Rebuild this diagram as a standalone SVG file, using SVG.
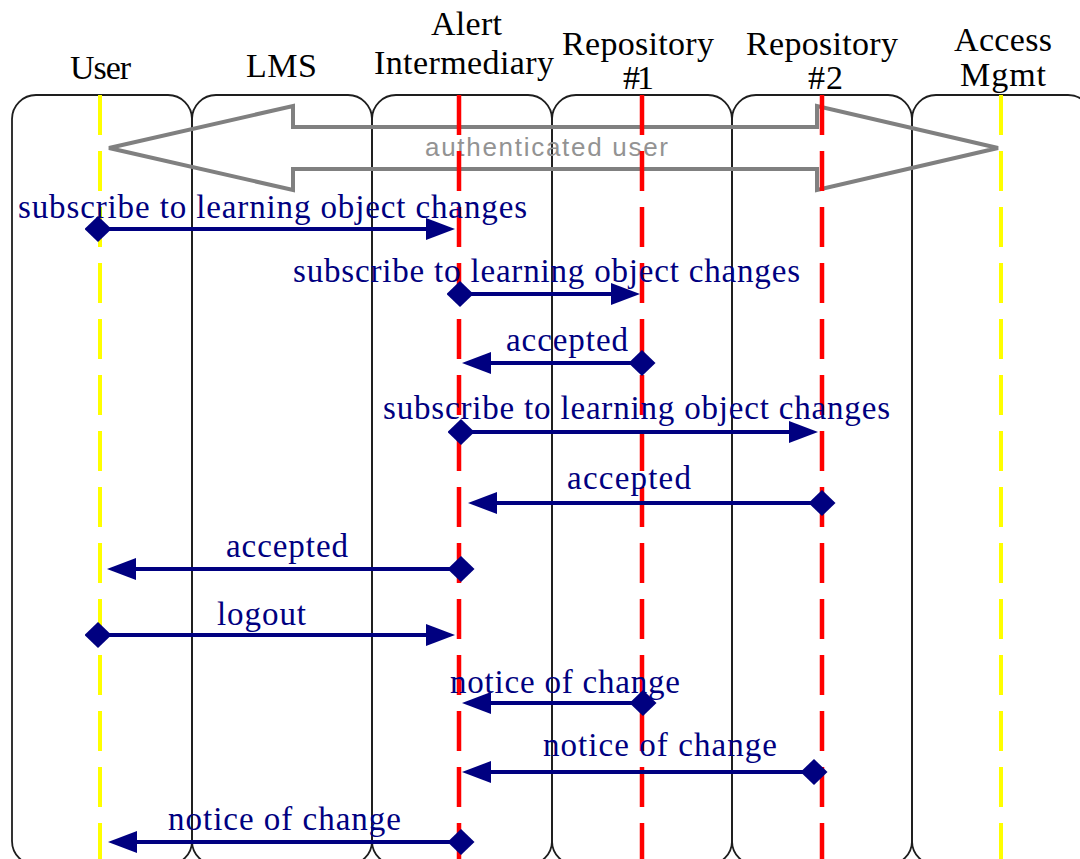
<svg xmlns="http://www.w3.org/2000/svg" width="1080" height="859" viewBox="0 0 1080 859">
  <style>
    .lane { fill: none; stroke: #1e1e1e; stroke-width: 1.8; }
    .head { font-family: "Liberation Serif", "Times New Roman", serif; font-size: 34px; fill: #000; }
    .life-y { stroke: #ffff00; stroke-width: 4; stroke-dasharray: 40 16; }
    .life-r { stroke: #ff0000; stroke-width: 4.5; stroke-dasharray: 40 16; }
    .msg { stroke: #000080; stroke-width: 4; fill: none; marker-start: url(#dia); marker-end: url(#tip); }
    .lbl { font-family: "Liberation Serif", "Times New Roman", serif; font-size: 33px; fill: #000080; }
    .auth { fill: none; stroke: #808080; stroke-width: 4; stroke-linejoin: miter; }
    .authtxt { font-family: "Liberation Sans", Arial, sans-serif; font-size: 26px; fill: #939393; }
  </style>
  <defs>
    <marker id="tip" viewBox="0 0 29 22" refX="19" refY="11" markerWidth="29" markerHeight="22" markerUnits="userSpaceOnUse" orient="auto">
      <path d="M0,0 L29,11 L0,22 z" fill="#000080"/>
    </marker>
    <marker id="dia" viewBox="0 0 27 26" refX="13.5" refY="13" markerWidth="27" markerHeight="26" markerUnits="userSpaceOnUse" orient="auto">
      <path d="M0,13 L13.5,0 L27,13 L13.5,26 z" fill="#000080"/>
    </marker>
  </defs>

  <rect width="1080" height="859" fill="#fff"/>

  <!-- swimlanes -->
  <g id="lane-user"><rect class="lane" x="12" y="95" width="180" height="770" rx="24"/>
    <text class="head" x="70" y="79" textLength="61">User</text></g>
  <g id="lane-lms"><rect class="lane" x="192" y="95" width="180" height="770" rx="24"/>
    <text class="head" x="246" y="77" textLength="71">LMS</text></g>
  <g id="lane-alert"><rect class="lane" x="372" y="95" width="180" height="770" rx="24"/>
    <text class="head" x="431" y="35" textLength="71">Alert</text>
    <text class="head" x="374" y="74" textLength="180">Intermediary</text></g>
  <g id="lane-repo1"><rect class="lane" x="552" y="95" width="180" height="770" rx="24"/>
    <text class="head" x="562" y="55" textLength="152">Repository</text>
    <text class="head" x="623" y="89" textLength="31">#1</text></g>
  <g id="lane-repo2"><rect class="lane" x="732" y="95" width="180" height="770" rx="24"/>
    <text class="head" x="746" y="55" textLength="152">Repository</text>
    <text class="head" x="808" y="89" textLength="35">#2</text></g>
  <g id="lane-access"><rect class="lane" x="912" y="95" width="180" height="770" rx="24"/>
    <text class="head" x="954" y="51" textLength="98">Access</text>
    <text class="head" x="960" y="86" textLength="86">Mgmt</text></g>

  <!-- authenticated session spanning User to Access Mgmt -->
  <g id="auth-session">
    <path class="auth" d="M109,148 L293,106 L293,127 L817,127 L817,106 L998,148 L817,190 L817,169 L293,169 L293,190 Z"/>
    <text class="authtxt" x="425" y="156" textLength="243">authenticated user</text>
  </g>

  <!-- lifelines -->
  <g id="lifelines">
    <line class="life-y" x1="100" y1="95" x2="100" y2="859"/>
    <line class="life-r" x1="459" y1="95" x2="459" y2="859"/>
    <line class="life-r" x1="642" y1="95" x2="642" y2="859"/>
    <line class="life-r" x1="822" y1="95" x2="822" y2="859"/>
    <line class="life-y" x1="1001" y1="95" x2="1001" y2="859"/>
  </g>

  <!-- messages -->
  <g id="connectors">
    <path class="msg" d="M98,229 H445"/>
    <path class="msg" d="M460,294 H630"/>
    <path class="msg" d="M642,363 H472"/>
    <path class="msg" d="M461,432 H808"/>
    <path class="msg" d="M822,503 H478"/>
    <path class="msg" d="M461,569 H117"/>
    <path class="msg" d="M98,635 H445"/>
    <path class="msg" d="M643,703 H472"/>
    <path class="msg" d="M814,772 H472"/>
    <path class="msg" d="M461,842 H118"/>
  </g>
  <g id="labels">
    <text class="lbl" x="18" y="218" textLength="509">subscribe to learning object changes</text>
    <text class="lbl" x="293" y="282" textLength="507">subscribe to learning object changes</text>
    <text class="lbl" x="506" y="351" textLength="122">accepted</text>
    <text class="lbl" x="383" y="419" textLength="507">subscribe to learning object changes</text>
    <text class="lbl" x="567" y="489" textLength="124">accepted</text>
    <text class="lbl" x="226" y="557" textLength="122">accepted</text>
    <text class="lbl" x="217" y="625" textLength="89">logout</text>
    <text class="lbl" x="450" y="693" textLength="230">notice of change</text>
    <text class="lbl" x="543" y="756" textLength="234">notice of change</text>
    <text class="lbl" x="168" y="830" textLength="233">notice of change</text>
  </g>
</svg>
